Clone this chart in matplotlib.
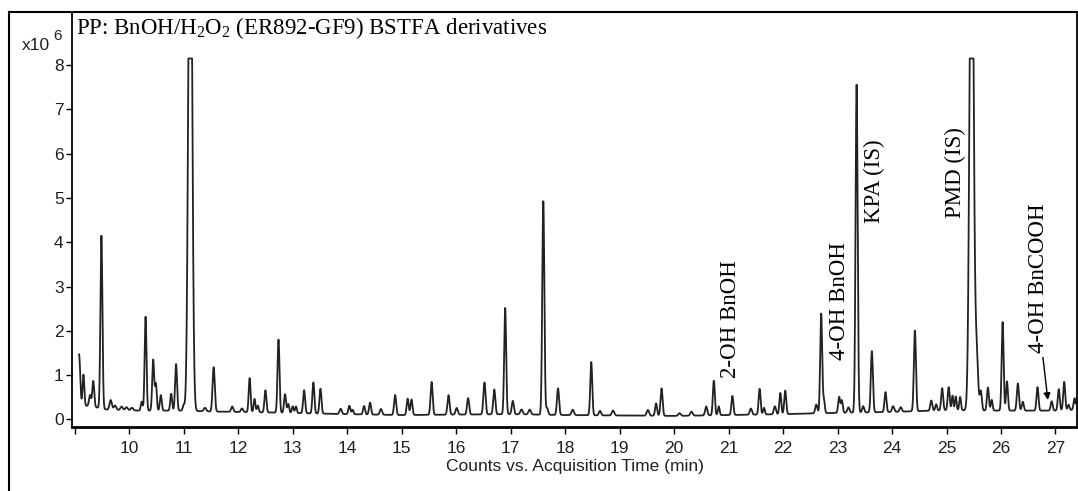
import numpy as np
import matplotlib
matplotlib.use("Agg")
import matplotlib.pyplot as plt
from matplotlib.lines import Line2D

plt.rcParams['mathtext.fontset'] = 'custom'
plt.rcParams['mathtext.rm'] = 'Liberation Serif'
plt.rcParams['mathtext.it'] = 'Liberation Serif:italic'

# ---- data (time in min, counts in 1e6) ----
peak_rt = [9.08, 9.16, 9.28, 9.34, 9.49, 9.66, 9.74, 9.86, 9.95, 10.05,
           10.23, 10.30, 10.44, 10.49, 10.58, 10.77, 10.86, 11.00, 11.12, 11.39,
           11.55, 11.89, 12.07, 12.21, 12.30, 12.36, 12.50, 12.74, 12.86, 12.92,
           13.00, 13.06, 13.21, 13.38, 13.51, 13.88, 14.04, 14.10, 14.31, 14.42,
           14.62, 14.88, 15.11, 15.18, 15.55, 15.86, 16.01, 16.22, 16.52, 16.70,
           16.90, 17.04, 17.20, 17.35, 17.60, 17.67, 17.87, 18.14, 18.48, 18.64,
           18.88, 19.52, 19.67, 19.77, 20.10, 20.32, 20.59, 20.73, 20.82, 21.07,
           21.41, 21.57, 21.65, 21.85, 21.95, 22.04, 22.61, 22.70, 22.75, 23.03,
           23.08, 23.20, 23.35, 23.47, 23.63, 23.88, 24.02, 24.16, 24.42, 24.72,
           24.81, 24.92, 25.04, 25.11, 25.17, 25.25, 25.46, 25.55, 25.63, 25.76,
           25.83, 26.03, 26.11, 26.31, 26.40, 26.67, 26.93, 27.06, 27.16, 27.24,
           27.35]
peak_height = [1.15, 0.70, 0.25, 0.58, 3.90, 0.22, 0.10, 0.08, 0.07, 0.06,
               0.20, 2.12, 1.15, 0.60, 0.35, 0.38, 1.05, 0.12, 14.0, 0.08,
               1.00, 0.12, 0.08, 0.77, 0.30, 0.15, 0.50, 1.65, 0.42, 0.20,
               0.15, 0.15, 0.52, 0.70, 0.56, 0.12, 0.19, 0.10, 0.19, 0.27,
               0.13, 0.45, 0.37, 0.35, 0.74, 0.44, 0.15, 0.37, 0.72, 0.56,
               2.40, 0.30, 0.11, 0.11, 4.82, 0.15, 0.60, 0.12, 1.20, 0.10,
               0.11, 0.13, 0.28, 0.62, 0.06, 0.09, 0.20, 0.78, 0.20, 0.43,
               0.14, 0.58, 0.15, 0.18, 0.48, 0.53, 0.20, 2.25, 0.30, 0.36,
               0.28, 0.12, 7.40, 0.14, 1.38, 0.45, 0.13, 0.10, 1.82, 0.23,
               0.14, 0.50, 0.52, 0.33, 0.31, 0.30, 14.0, 1.30, 0.43, 0.52,
               0.24, 2.00, 0.66, 0.61, 0.20, 0.53, 0.21, 0.48, 0.64, 0.12,
               0.26]
peak_width = [0.020, 0.016, 0.018, 0.018, 0.018, 0.022, 0.022, 0.022, 0.022, 0.022,
              0.016, 0.017, 0.018, 0.016, 0.017, 0.017, 0.018, 0.017, 0.033, 0.022,
              0.020, 0.020, 0.020, 0.017, 0.016, 0.016, 0.018, 0.018, 0.018, 0.016,
              0.016, 0.016, 0.018, 0.018, 0.018, 0.020, 0.018, 0.016, 0.018, 0.018,
              0.020, 0.019, 0.018, 0.018, 0.019, 0.019, 0.020, 0.019, 0.020, 0.019,
              0.018, 0.019, 0.022, 0.022, 0.019, 0.018, 0.019, 0.022, 0.018, 0.020,
              0.022, 0.022, 0.018, 0.019, 0.022, 0.022, 0.020, 0.018, 0.016, 0.018,
              0.020, 0.018, 0.016, 0.020, 0.017, 0.018, 0.020, 0.018, 0.016, 0.018,
              0.016, 0.020, 0.019, 0.018, 0.019, 0.018, 0.020, 0.020, 0.019, 0.018,
              0.016, 0.018, 0.018, 0.015, 0.015, 0.016, 0.034, 0.028, 0.018, 0.018,
              0.016, 0.018, 0.017, 0.019, 0.018, 0.018, 0.018, 0.018, 0.018, 0.016,
              0.018]
baseline_t = [9.08, 9.30, 9.60, 10.20, 11.00, 11.50, 12.50, 14.00, 15.00,
              17.00, 18.00, 20.00, 21.00, 22.00, 23.00, 24.00, 25.00, 26.00,
              27.00, 27.37]
baseline_v = [0.32, 0.30, 0.22, 0.20, 0.20, 0.18, 0.16, 0.12, 0.10,
              0.12, 0.10, 0.08, 0.10, 0.12, 0.15, 0.17, 0.21, 0.20,
              0.20, 0.22]
saturation = 8.15

y_ticks = [0, 1, 2, 3, 4, 5, 6, 7, 8]
x_ticks = list(range(9, 28))
x_tick_labels = [''] + [str(v) for v in range(10, 28)]

labels = ['2-OH BnOH', '4-OH BnOH', 'KPA (IS)', 'PMD (IS)', '4-OH BnCOOH']
label_t = [21.04, 23.04, 23.67, 25.16, 26.68]
label_v = [2.27, 2.67, 5.37, 5.58, 3.20]

# ---- build trace from peak table ----
t = np.arange(9.08, 27.372, 0.002)
base = np.interp(t, baseline_t, baseline_v)
rt = np.array(peak_rt)[:, None]
hh = np.array(peak_height)[:, None]
ww = np.array(peak_width)[:, None]
signal = base + (hh * np.exp(-0.5 * ((t[None, :] - rt) / ww) ** 2)).sum(axis=0)
signal = np.minimum(signal, saturation)

W, H = 1078, 491
fig = plt.figure(figsize=(W / 100, H / 100), dpi=100)
ax = fig.add_axes([72 / W, (H - 427) / H, (1077 - 72) / W, (427 - 12) / H])
ax.plot(t, signal, color='#222222', lw=1.3)
ax.set_xlim(8.95, 27.395)
ax.set_ylim(-0.17, 9.2)

tick_color = '#1f1f2a'
ax.set_yticks(y_ticks)
ax.set_yticklabels([str(v) for v in y_ticks], fontfamily='Liberation Sans',
                   fontsize=12.5, color=tick_color)
ax.set_xticks(x_ticks)
ax.set_xticklabels(x_tick_labels, fontfamily='Liberation Sans',
                   fontsize=12.5, color=tick_color)
ax.tick_params(axis='y', direction='out', length=4, width=1.0, pad=2)
ax.tick_params(axis='x', direction='out', length=5, width=1.0, pad=5)
for s in ['left', 'top', 'right']:
    ax.spines[s].set_linewidth(1.3)
ax.spines['bottom'].set_linewidth(2.0)
ax.set_xlabel('Counts vs. Acquisition Time (min)', fontfamily='Liberation Sans',
              fontsize=12.5, color=tick_color, labelpad=2)

# outer frame lines
fig.add_artist(Line2D([9 / W, 9 / W], [0, (H - 12) / H], color='black', lw=1.5))
fig.add_artist(Line2D([9 / W, 1], [(H - 12) / H, (H - 12) / H], color='black', lw=1.5))

# multiplier
fig.text(36 / W, (H - 46) / H, 'x10', fontfamily='Liberation Sans', fontsize=12.5,
         color=tick_color, ha='center', va='center')
fig.text(58 / W, (H - 36) / H, '6', fontfamily='Liberation Sans', fontsize=11,
         color=tick_color, ha='center', va='center')

# title
fig.text(76 / W, (H - 34.5) / H,
         r'PP: BnOH/H$_2$O$_2$ (ER892-GF9) BSTFA derivatives',
         fontfamily='Liberation Serif', fontsize=16.5, color='black',
         ha='left', va='baseline')

for lab, lt, lv in zip(labels, label_t, label_v):
    ax.text(lt, lv, lab, rotation=90, ha='center', va='center',
            fontfamily='Liberation Serif', fontsize=16.5, color='black')

ax.annotate('', xy=(26.86, 0.44), xytext=(26.77, 1.40),
            arrowprops=dict(arrowstyle='-|>', color='black', lw=1.0,
                            mutation_scale=10, shrinkA=0, shrinkB=0))

fig.savefig('out.png', dpi=100)
